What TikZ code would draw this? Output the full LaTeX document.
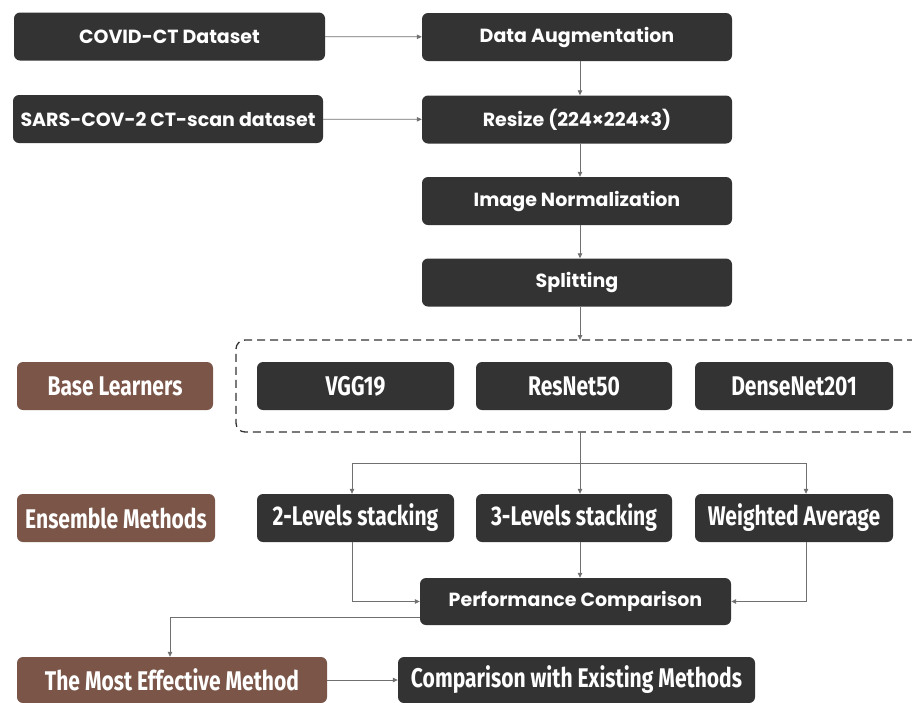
\documentclass[tikz,border=0pt]{standalone}
\usepackage{fontspec}
\setmainfont{Poppins}
\newfontfamily\narrowfont{Fira Sans}[FakeStretch=0.78]
\usetikzlibrary{arrows.meta}
\definecolor{boxgray}{HTML}{333333}
\definecolor{boxbrown}{HTML}{7A5548}
\definecolor{linegray}{HTML}{707070}
\begin{document}
\begin{tikzpicture}[x=1pt,y=-1pt,
  box/.style={rounded corners=6pt, fill=boxgray, text=white, inner sep=0pt,
    minimum height=48pt, font=\fontsize{19}{22}\selectfont\bfseries},
  nbox/.style={box, font=\narrowfont\fontsize{27}{30}\selectfont\bfseries},
  bbox/.style={nbox, fill=boxbrown},
  conn/.style={draw=linegray, line width=0.8pt, -{Triangle[length=5pt,width=4.5pt]}},
  wire/.style={draw=linegray, line width=0.8pt}]
\useasboundingbox (0,0) rectangle (912,702);

% input datasets and preprocessing chain
\node[box, minimum width=311pt] (covid) at (169.5,36.5) {COVID-CT Dataset};
\node[box, minimum width=310pt] (sars) at (168,119) {SARS-COV-2 CT-scan dataset};
\node[box, minimum width=310pt] (aug) at (577,37) {Data Augmentation};
\node[box, minimum width=310pt] (resize) at (577,119.5) {Resize (224×224×3)};
\node[box, minimum width=310pt] (norm) at (577,201) {Image Normalization};
\node[box, minimum width=310pt] (split) at (577,282.5) {Splitting};

\draw[conn] (covid) -- (aug);
\draw[conn] (sars) -- (resize);
\draw[conn] (aug.south -| 580,0) -- (resize.north -| 580,0);
\draw[conn] (resize.south -| 580,0) -- (norm.north -| 580,0);
\draw[conn] (norm.south -| 580,0) -- (split.north -| 580,0);

% base learners group
\draw[black!80, line width=1.3pt, dash pattern=on 8pt off 5pt, rounded corners=9pt]
  (915,340) -- (236,340) -- (236,432) -- (915,432);
\coordinate (grouptop) at (580,340);
\coordinate (groupbot) at (580,432);
\draw[conn] (split.south -| 580,0) -- (grouptop);

\node[bbox, minimum width=196pt] (base) at (115,386) {Base Learners};
\node[nbox, minimum width=197pt] (vgg) at (355.5,386) {VGG19};
\node[nbox, minimum width=196pt] (resnet) at (574,386) {ResNet50};
\node[nbox, minimum width=198pt] (dense) at (794,386) {DenseNet201};

% ensemble methods
\node[bbox, minimum width=198pt] (ens) at (116,518) {Ensemble Methods};
\node[nbox, minimum width=197pt] (lev2) at (355.5,518) {2-Levels stacking};
\node[nbox, minimum width=196pt] (lev3) at (574,518) {3-Levels stacking};
\node[nbox, minimum width=198pt] (wavg) at (794,518) {Weighted Average};

\coordinate (fork) at (580,463);
\coordinate (forkl) at (352,463);
\coordinate (forkr) at (806,463);
\draw[conn] (groupbot) -- (lev3.north -| fork);
\draw[wire] (forkl) -- (forkr);
\draw[conn] (forkl) -- (lev2.north -| forkl);
\draw[conn] (forkr) -- (wavg.north -| forkr);

\node[box, minimum width=311pt, minimum height=47pt] (perf) at (575.5,601.5) {Performance Comparison};
\draw[conn] (lev3.south -| fork) -- (perf.north -| fork);
\draw[conn] (lev2.south -| forkl) |- (perf.west);
\draw[conn] (wavg.south -| forkr) |- (perf.east);

% final stage
\node[bbox, minimum width=310pt, minimum height=46pt] (best) at (172,680) {The Most Effective Method};
\node[nbox, minimum width=357pt, minimum height=46pt] (exist) at (576.5,680) {Comparison with Existing Methods};
\coordinate (perfout) at (420,617);
\draw[conn] (perfout) -| (best.north -| 170,0);
\draw[conn] (best) -- (exist);
\end{tikzpicture}
\end{document}
